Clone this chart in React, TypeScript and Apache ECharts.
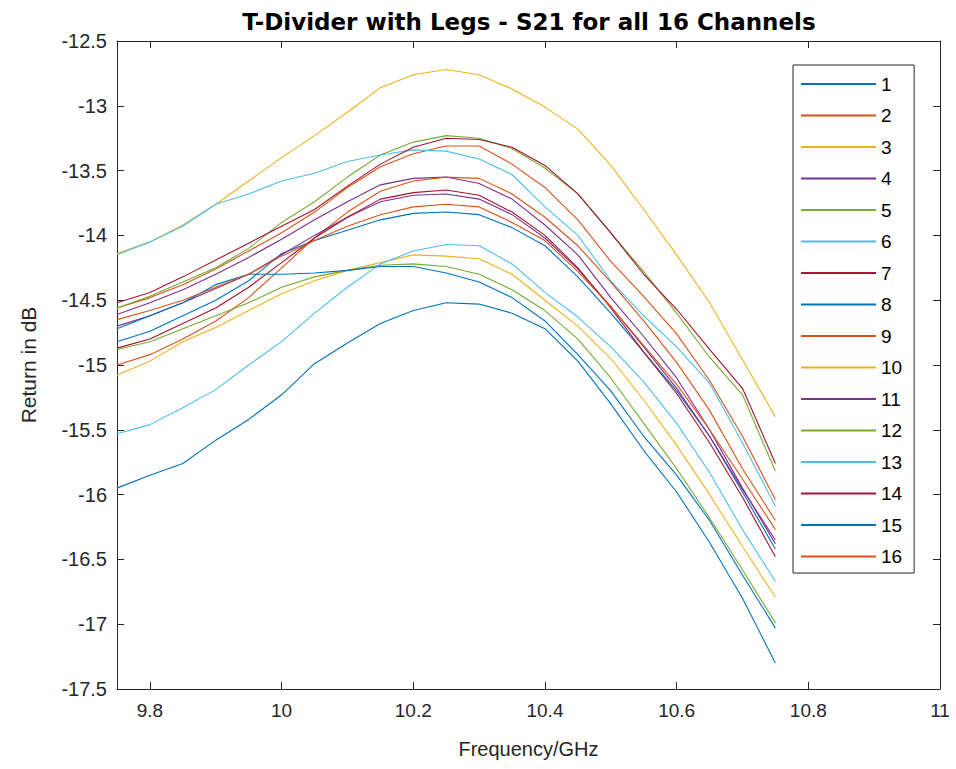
import React, { useEffect, useRef } from "react";
import * as echarts from "echarts";

const frequencies = [9.75, 9.8, 9.85, 9.9, 9.95, 10.0, 10.05, 10.1, 10.15, 10.2, 10.25, 10.3, 10.35, 10.4, 10.45, 10.5, 10.55, 10.6, 10.65, 10.7, 10.75];

const ch1 = [-15.95, -15.85, -15.76, -15.58, -15.42, -15.23, -14.99, -14.83, -14.68, -14.58, -14.52, -14.53, -14.6, -14.72, -14.97, -15.3, -15.66, -15.98, -16.37, -16.8, -17.3];
const ch2 = [-14.56, -14.48, -14.38, -14.26, -14.12, -13.98, -13.82, -13.63, -13.47, -13.37, -13.31, -13.31, -13.45, -13.63, -13.88, -14.2, -14.47, -14.76, -15.12, -15.55, -16.04];
const ch3 = [-14.14, -14.05, -13.92, -13.76, -13.58, -13.4, -13.23, -13.05, -12.86, -12.76, -12.72, -12.76, -12.87, -13.01, -13.18, -13.46, -13.8, -14.15, -14.52, -14.96, -15.4];
const ch4 = [-14.61, -14.52, -14.42, -14.3, -14.17, -14.03, -13.88, -13.74, -13.61, -13.56, -13.55, -13.6, -13.72, -13.92, -14.15, -14.48, -14.78, -15.1, -15.5, -15.95, -16.38];
const ch5 = [-14.56, -14.47, -14.36, -14.25, -14.1, -13.9, -13.74, -13.55, -13.38, -13.28, -13.23, -13.25, -13.33, -13.48, -13.68, -13.98, -14.28, -14.6, -14.94, -15.23, -15.82];
const ch6 = [-14.15, -14.05, -13.93, -13.76, -13.68, -13.58, -13.52, -13.43, -13.38, -13.34, -13.35, -13.41, -13.53, -13.78, -14.0, -14.35, -14.62, -14.86, -15.14, -15.6, -16.09];
const ch7 = [-14.52, -14.44, -14.32, -14.19, -14.06, -13.93, -13.8, -13.62, -13.45, -13.32, -13.25, -13.26, -13.32, -13.46, -13.68, -13.98, -14.3, -14.57, -14.88, -15.18, -15.76];
const ch8 = [-14.82, -14.74, -14.62, -14.5, -14.35, -14.14, -14.04, -13.96, -13.88, -13.83, -13.82, -13.84, -13.94, -14.08, -14.32, -14.6, -14.9, -15.2, -15.55, -15.98, -16.42];
const ch9 = [-15.0, -14.92, -14.8, -14.66, -14.48, -14.25, -14.02, -13.82, -13.66, -13.58, -13.55, -13.56, -13.68, -13.86, -14.08, -14.36, -14.66, -14.98, -15.35, -15.8, -16.2];
const ch10 = [-15.08, -14.97, -14.82, -14.71, -14.58, -14.45, -14.35, -14.27, -14.21, -14.15, -14.16, -14.18, -14.3, -14.5, -14.7, -14.95, -15.27, -15.62, -16.0, -16.4, -16.79];
const ch11 = [-14.7, -14.62, -14.52, -14.41, -14.3, -14.15, -14.0, -13.86, -13.74, -13.69, -13.68, -13.72, -13.84, -14.02, -14.26, -14.55, -14.86, -15.18, -15.55, -15.96, -16.35];
const ch12 = [-14.88, -14.82, -14.72, -14.62, -14.52, -14.4, -14.32, -14.27, -14.23, -14.22, -14.24, -14.3, -14.42, -14.58, -14.8, -15.1, -15.45, -15.8, -16.18, -16.58, -16.99];
const ch13 = [-15.53, -15.46, -15.33, -15.19, -15.0, -14.82, -14.6, -14.4, -14.22, -14.12, -14.07, -14.08, -14.22, -14.44, -14.63, -14.86, -15.13, -15.45, -15.83, -16.27, -16.67];
const ch14 = [-14.87, -14.8, -14.68, -14.56, -14.4, -14.21, -14.02, -13.86, -13.72, -13.67, -13.65, -13.69, -13.82, -14.0, -14.25, -14.56, -14.9, -15.22, -15.6, -16.02, -16.48];
const ch15 = [-14.72, -14.62, -14.52, -14.38, -14.3, -14.3, -14.29, -14.27, -14.24, -14.24, -14.29, -14.36, -14.48, -14.66, -14.92, -15.2, -15.55, -15.85, -16.2, -16.62, -17.03];
const ch16 = [-14.65, -14.58, -14.5, -14.4, -14.3, -14.16, -14.04, -13.93, -13.84, -13.78, -13.76, -13.78, -13.9, -14.04, -14.28, -14.55, -14.85, -15.15, -15.5, -15.88, -16.27];

const channelNames = ["1", "2", "3", "4", "5", "6", "7", "8", "9", "10", "11", "12", "13", "14", "15", "16"];
const channelValues = [ch1, ch2, ch3, ch4, ch5, ch6, ch7, ch8, ch9, ch10, ch11, ch12, ch13, ch14, ch15, ch16];
const palette = ["#0072BD", "#D95319", "#EDB120", "#7E2F8E", "#77AC30", "#4DBEEE", "#A2142F"];
const xTicks = [9.8, 10, 10.2, 10.4, 10.6, 10.8, 11];

const axisColor = "#262626";
const fontFamily = "'Liberation Sans', Arial, Helvetica, sans-serif";
const titleFont = "'DejaVu Sans', 'Liberation Sans', sans-serif";

export default function App() {
  const ref = useRef<HTMLDivElement>(null);

  useEffect(() => {
    if (!ref.current) return;
    const chart = echarts.init(ref.current, null, { renderer: "svg" });

    const series = channelValues.map((vals, i) => ({
      name: channelNames[i],
      type: "line",
      xAxisIndex: 0,
      yAxisIndex: 0,
      data: frequencies.map((f, j) => [f, vals[j]]),
      symbol: "none",
      showSymbol: false,
      lineStyle: { width: 1.1, color: palette[i % palette.length] },
      itemStyle: { color: palette[i % palette.length] },
      emphasis: { disabled: true },
    }));

    const tickCommon = {
      show: true,
      inside: true,
      length: 7,
      lineStyle: { color: axisColor, width: 1 },
    };

    chart.setOption({
      animation: false,
      backgroundColor: "#ffffff",
      textStyle: { fontFamily },
      title: {
        text: "T-Divider with Legs - S21 for all 16 Channels",
        left: 524,
        top: 5,
        textAlign: "center",
        textStyle: { fontFamily: titleFont, fontSize: 23, fontWeight: "bold", color: "#000" },
      },
      legend: {
        orient: "vertical",
        left: 793,
        top: 65,
        padding: [9.5, 12, 7, 7],
        itemWidth: 75,
        itemHeight: 16,
        itemGap: 12.5,
        backgroundColor: "#ffffff",
        borderColor: axisColor,
        borderWidth: 1,
        itemStyle: { opacity: 0, borderWidth: 0 },
        textStyle: { fontFamily, fontSize: 19, color: "#000" },
        data: channelNames,
      },
      grid: { left: 117, right: 16, top: 41, bottom: 80, containLabel: false },
      xAxis: [
        {
          type: "value",
          min: 9.75,
          max: 11,
          position: "bottom",
          axisLine: { show: true, onZero: false, lineStyle: { color: axisColor, width: 1 } },
          axisTick: { ...tickCommon, customValues: xTicks },
          axisLabel: {
            customValues: xTicks,
            margin: 12,
            fontFamily,
            fontSize: 19,
            color: axisColor,
            formatter: (v: number) => String(Math.round(v * 10) / 10),
          },
          splitLine: { show: false },
          name: "Frequency/GHz",
          nameLocation: "middle",
          nameGap: 50,
          nameTextStyle: { fontFamily, fontSize: 20, color: axisColor },
        },
        {
          type: "value",
          min: 9.75,
          max: 11,
          position: "top",
          axisLine: { show: true, onZero: false, lineStyle: { color: axisColor, width: 1 } },
          axisTick: { ...tickCommon, customValues: xTicks },
          axisLabel: { show: false },
          splitLine: { show: false },
        },
      ],
      yAxis: [
        {
          type: "value",
          min: -17.5,
          max: -12.5,
          interval: 0.5,
          position: "left",
          axisLine: { show: true, onZero: false, lineStyle: { color: axisColor, width: 1 } },
          axisTick: tickCommon,
          axisLabel: { margin: 10, fontFamily, fontSize: 20, color: axisColor },
          splitLine: { show: false },
          name: "Return in dB",
          nameLocation: "middle",
          nameRotate: 90,
          nameGap: 78,
          nameTextStyle: { fontFamily, fontSize: 21, color: axisColor },
        },
        {
          type: "value",
          min: -17.5,
          max: -12.5,
          interval: 0.5,
          position: "right",
          axisLine: { show: true, onZero: false, lineStyle: { color: axisColor, width: 1 } },
          axisTick: tickCommon,
          axisLabel: { show: false },
          splitLine: { show: false },
        },
      ],
      series,
    });

    return () => chart.dispose();
  }, []);

  return (
    <div
      ref={ref}
      style={{ position: "fixed", left: 0, top: 0, width: 956, height: 769, background: "#ffffff" }}
    />
  );
}
